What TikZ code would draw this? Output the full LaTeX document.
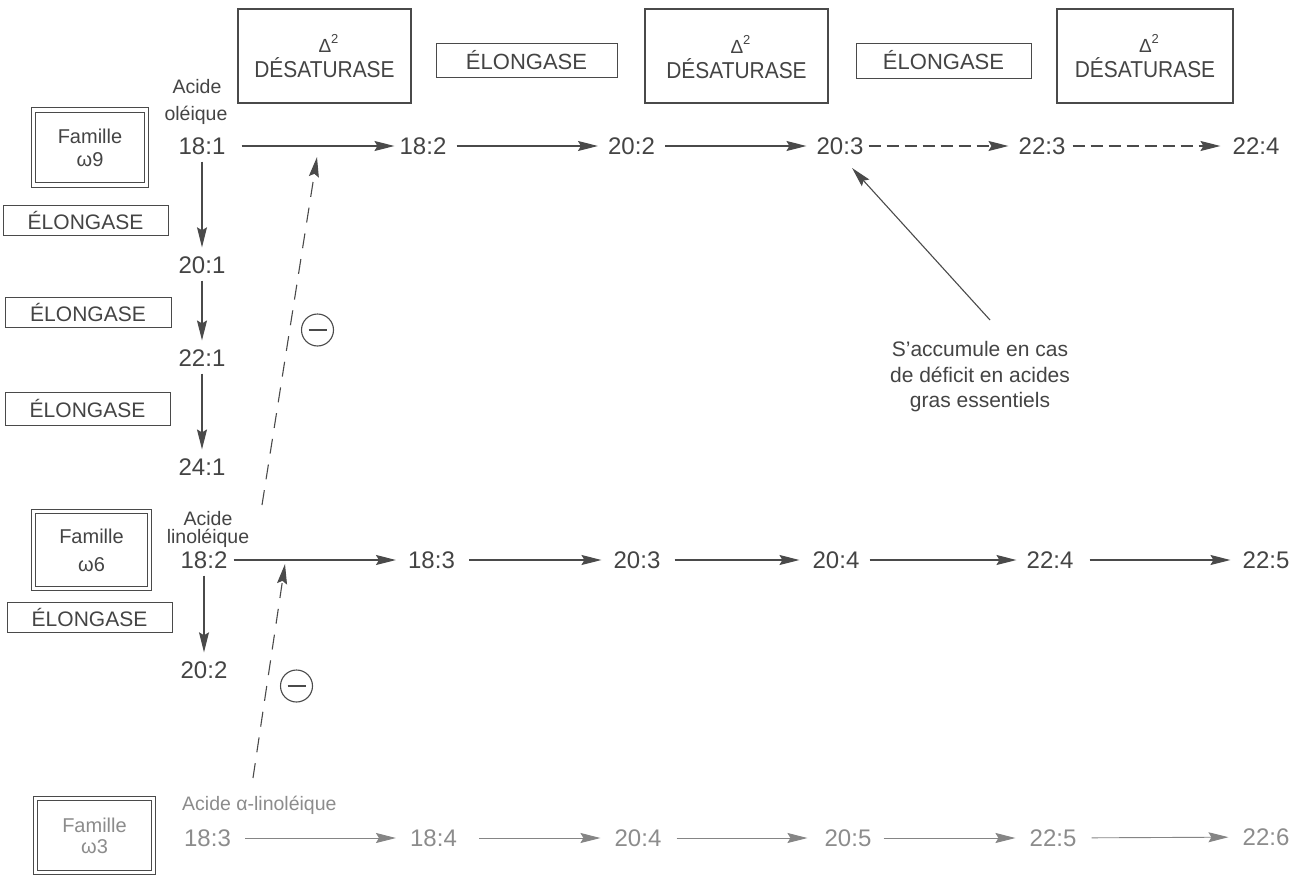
\documentclass[tikz,border=0pt]{standalone}
\usepackage{fontspec}
\setmainfont{Liberation Sans}
\newfontfamily\condf{Liberation Sans}[FakeStretch=0.91]
\usetikzlibrary{arrows.meta}
\definecolor{ink}{HTML}{444444}
\definecolor{linec}{HTML}{4A4A4A}
\definecolor{faint}{HTML}{8C8C8C}
\definecolor{faintl}{HTML}{858585}
\newcommand\fnum{\fontsize{24}{28}\selectfont}
\newcommand\fenz{\fontsize{21}{24}\selectfont}
\newcommand\fenzt{\fontsize{22}{25}\selectfont}
\newcommand\fdes{\condf\fontsize{23}{26}\selectfont}
\newcommand\flab{\fontsize{19.5}{23}\selectfont}
\newcommand\fdel{\fontsize{19}{19}\selectfont}
\newcommand\fsup{\fontsize{13}{13}\selectfont}
\newcommand\fann{\fontsize{21}{25.5}\selectfont}
\begin{document}
\begin{tikzpicture}[x=1pt,y=-1pt,
  lin/.style={draw=linec, line width=1.1pt},
  tip/.style={-{Stealth[length=20pt,width=10pt,inset=3pt]}},
  arr/.style={lin, tip, shorten <=10pt, shorten >=10pt},
  varr/.style={arr, shorten <=7pt, shorten >=9pt},
  darr/.style={arr, dash pattern=on 12pt off 6pt},
  farr/.style={arr, draw=faintl, line width=0.9pt},
  inh/.style={lin, dash pattern=on 15pt off 11pt, tip},
  num/.style={inner sep=0pt, text=ink, font=\fnum},
  fnum/.style={num, text=faint},
  dbox/.style={draw=linec, line width=1.1pt, inner sep=0pt},
  ebox/.style={draw=linec, line width=1pt, inner sep=0pt, font=\fenz, text=ink},
  fam/.style={draw=linec, double, double distance=3.5pt, line width=1.1pt, align=center, text=ink, inner sep=0pt},
  lab/.style={inner sep=0pt, font=\flab, text=ink},
  minus/.style={draw=linec, line width=1.1pt, circle, inner sep=0pt, minimum size=32pt}
]
\useasboundingbox[fill=white] (0,0) rectangle (1312,878);

% ---- top enzyme boxes ----
\node[dbox, minimum width=173pt, minimum height=94pt] (d1) at (324.5,56) {};
\node[dbox, minimum width=183pt, minimum height=94pt] (d2) at (736.5,56) {};
\node[dbox, minimum width=176pt, minimum height=94pt] (d3) at (1145,56) {};
\node[lab, font=\fdel, anchor=base] (d1d) at (328.5,52) {Δ\raisebox{9pt}{\fsup 2}};
\node[lab, font=\fdel, anchor=base] (d2d) at (740.5,53) {Δ\raisebox{9pt}{\fsup 2}};
\node[lab, font=\fdel, anchor=base] (d3d) at (1149,52) {Δ\raisebox{9pt}{\fsup 2}};
\node[lab, font=\fdes, anchor=base] (d1t) at (324.5,77) {DÉSATURASE};
\node[lab, font=\fdes, anchor=base] (d2t) at (736.5,78) {DÉSATURASE};
\node[lab, font=\fdes, anchor=base] (d3t) at (1145,77) {DÉSATURASE};
\node[ebox, font=\fenzt, minimum width=181pt, minimum height=34pt] (e1) at (526.5,60) {ÉLONGASE};
\node[ebox, font=\fenzt, minimum width=175pt, minimum height=35pt] (e2) at (943.5,60.5) {ÉLONGASE};

% ---- family boxes ----
\node[fam, font=\fontsize{20}{23}\selectfont, minimum width=113pt, minimum height=75pt] (f9) at (90,147.5) {Famille\\ω9};
\node[fam, font=\fontsize{20}{28}\selectfont, minimum width=116pt, minimum height=77pt] (f6) at (91.5,550) {Famille\\ω6};
\node[fam, font=\fontsize{20}{21}\selectfont, text=faint, minimum width=118pt, minimum height=74pt] (f3) at (94.5,835.5) {Famille\\ω3};

% ---- left elongase boxes ----
\node[ebox, minimum width=165pt, minimum height=30pt] (l1) at (85.5,220) {ÉLONGASE};
\node[ebox, minimum width=166pt, minimum height=30pt] (l2) at (88,312) {ÉLONGASE};
\node[ebox, minimum width=165pt, minimum height=33pt] (l3) at (87.5,408.5) {ÉLONGASE};
\node[ebox, minimum width=165pt, minimum height=30pt] (l4) at (89.5,617) {ÉLONGASE};

% ---- acid labels ----
\node[lab] (ao1) at (197,87) {Acide};
\node[lab] (ao2) at (196,115) {oléique};
\node[lab] (al1) at (208,519) {Acide};
\node[lab] (al2) at (208,538) {linoléique};
\node[lab, text=faint, anchor=west] (aa) at (182,805) {Acide α-linoléique};

% ---- row 1 (omega 9) ----
\node[num] (n181) at (202,146) {18:1};
\node[num] (n182) at (423,146) {18:2};
\node[num] (n202) at (631.5,146) {20:2};
\node[num] (n203) at (840,146) {20:3};
\node[num] (n223) at (1042,146) {22:3};
\node[num] (n224) at (1256,146) {22:4};
\node[num] (n201) at (202,265) {20:1};
\node[num] (n221) at (202,358) {22:1};
\node[num] (n241) at (202,467) {24:1};

% ---- row 2 (omega 6) ----
\node[num] (m182) at (204,560) {18:2};
\node[num] (m183) at (431.5,560) {18:3};
\node[num] (m203) at (637,560) {20:3};
\node[num] (m204) at (836,560) {20:4};
\node[num] (m224) at (1050,560) {22:4};
\node[num] (m225) at (1266,560) {22:5};
\node[num] (m202) at (204,670) {20:2};

% ---- row 3 (omega 3) ----
\node[fnum] (r183) at (207.5,838) {18:3};
\node[fnum] (r184) at (433.5,838) {18:4};
\node[fnum] (r204) at (638,838) {20:4};
\node[fnum] (r205) at (848,838) {20:5};
\node[fnum] (r225) at (1053,838) {22:5};
\node[fnum] (r226) at (1266,837) {22:6};

% ---- annotation ----
\node[inner sep=0pt, text=ink, font=\fann, align=center] (ann) at (980,377) {S'accumule en cas\\de déficit en acides\\gras essentiels};
\coordinate (annstart) at (990,320);
\draw[arr, shorten <=0pt, shorten >=18pt] (annstart) -- (n203.south);

% ---- row 1 arrows ----
\draw[arr, shorten <=16pt, shorten >=5pt] (n181) -- (n182);
\draw[arr] (n182) -- (n202);
\draw[arr] (n202) -- (n203);
\draw[darr, shorten <=5pt] (n203) -- (n223);
\draw[darr, shorten <=7pt, shorten >=12pt] (n223) -- (n224);
\draw[varr] (n181) -- (n201);
\draw[varr] (n201) -- (n221);
\draw[varr] (n221) -- (n241);

% ---- row 2 arrows ----
\draw[arr, shorten <=6pt, shorten >=12pt] (m182) -- (m183);
\draw[arr, shorten <=14pt, shorten >=12pt] (m183) -- (m203);
\draw[arr, shorten <=14pt, shorten >=13pt] (m203) -- (m204);
\draw[arr] (m204) -- (m224);
\draw[arr, shorten <=16pt, shorten >=12pt] (m224) -- (m225);
\draw[varr] (m182) -- (m202);

% ---- row 3 arrows ----
\draw[farr, shorten <=14pt, shorten >=14pt] (r183) -- (r184);
\draw[farr, shorten <=22pt, shorten >=14pt] (r184) -- (r204);
\draw[farr, shorten <=15pt, shorten >=17pt] (r204) -- (r205);
\draw[farr, shorten <=12pt, shorten >=14pt] (r205) -- (r225);
\draw[farr, shorten <=15pt, shorten >=14pt] (r225) -- (r226);

% ---- inhibitions ----
\coordinate (i1s) at (262,505);
\coordinate (i1e) at (317,157);
\coordinate (i2s) at (253,778);
\coordinate (i2e) at (285,564);
\draw[inh] (i1s) -- (i1e);
\draw[inh] (i2s) -- (i2e);
\node[minus] (c1) at (317.5,330) {};
\node[minus] (c2) at (296.5,686) {};
\draw[lin] ([xshift=-9pt]c1.center) -- ([xshift=9pt]c1.center);
\draw[lin] ([xshift=-9pt]c2.center) -- ([xshift=9pt]c2.center);
\end{tikzpicture}
\end{document}
